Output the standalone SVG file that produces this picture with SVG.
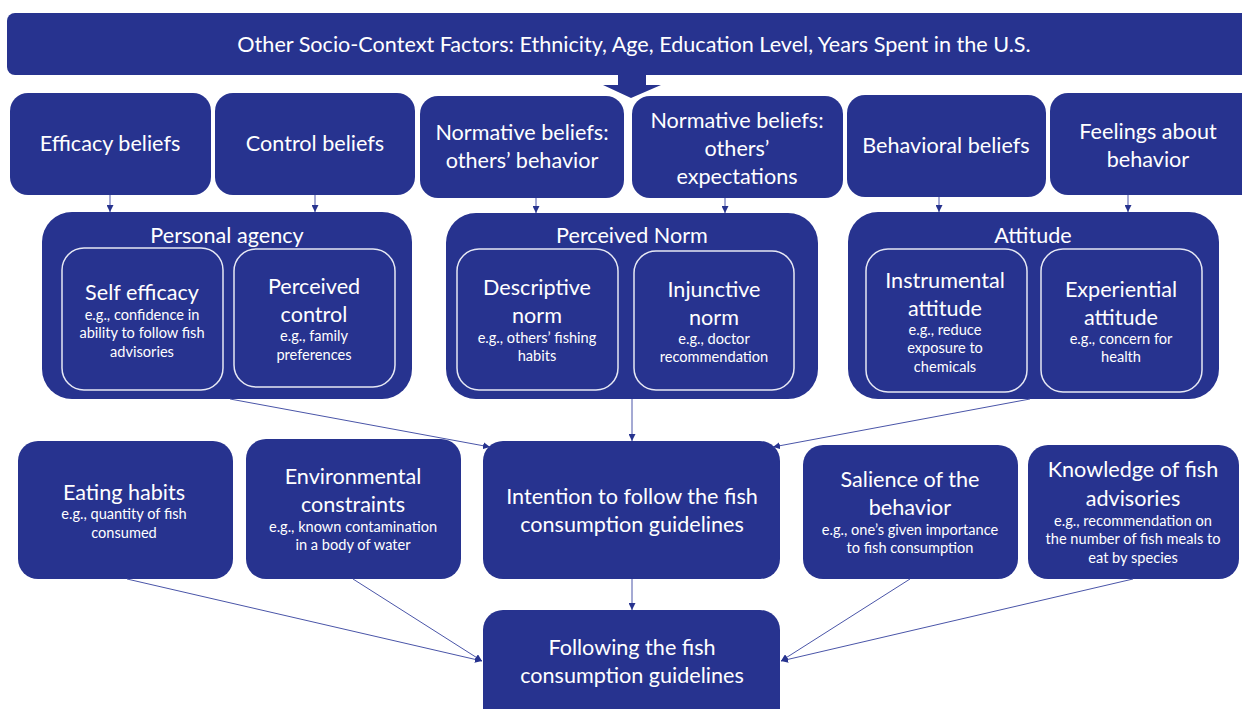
<svg xmlns="http://www.w3.org/2000/svg" width="1242" height="709" viewBox="0 0 1242 709">
  <defs>
    <style>
      .box { fill: #27338f; }
      .inner { fill: none; stroke: #e6e8f4; stroke-width: 1.5; }
      .t { font-family: Lato, "Liberation Sans", sans-serif; fill: #ffffff; text-anchor: middle; font-size: 21.6px; }
      .s { font-family: Lato, "Liberation Sans", sans-serif; fill: #ffffff; text-anchor: middle; font-size: 14.6px; }
      .c { fill: none; stroke: #4a55a8; stroke-width: 1; marker-end: url(#ah); }
    </style>
    <marker id="ah" viewBox="0 0 10 10" refX="10" refY="5" markerWidth="7" markerHeight="7" markerUnits="userSpaceOnUse" orient="auto">
      <path d="M0,0 L10,5 L0,10 z" fill="#27338f"/>
    </marker>
  </defs>

  <!-- banner -->
  <g id="banner">
    <rect class="box" x="7" y="13" width="1250" height="62" rx="8"/>
    <text class="t" x="634" y="52">Other Socio-Context Factors: Ethnicity, Age, Education Level, Years Spent in the U.S.</text>
    <path class="box" d="M618,75 H646 V85 H661 L631,98 L603,85 H618 Z"/>
  </g>

  <!-- belief boxes -->
  <g id="efficacy-beliefs">
    <rect class="box" x="10" y="93" width="201" height="102" rx="18"/>
    <text class="t" x="110" y="151">Efficacy beliefs</text>
  </g>
  <g id="control-beliefs">
    <rect class="box" x="215" y="93" width="200" height="102" rx="18"/>
    <text class="t" x="315" y="151">Control beliefs</text>
  </g>
  <g id="normative-behavior">
    <rect class="box" x="420" y="96" width="204" height="102" rx="18"/>
    <text class="t" x="522" y="140">Normative beliefs:</text>
    <text class="t" x="522" y="168">others’ behavior</text>
  </g>
  <g id="normative-expectations">
    <rect class="box" x="632" y="96" width="211" height="102" rx="18"/>
    <text class="t" x="737" y="128">Normative beliefs:</text>
    <text class="t" x="737" y="156">others’</text>
    <text class="t" x="737" y="184">expectations</text>
  </g>
  <g id="behavioral-beliefs">
    <rect class="box" x="847" y="95" width="199" height="102" rx="18"/>
    <text class="t" x="946" y="153">Behavioral beliefs</text>
  </g>
  <g id="feelings">
    <rect class="box" x="1050" y="93" width="210" height="102" rx="18"/>
    <text class="t" x="1148" y="139">Feelings about</text>
    <text class="t" x="1148" y="167">behavior</text>
  </g>

  <!-- personal agency -->
  <g id="personal-agency">
    <rect class="box" x="42" y="212" width="370" height="187" rx="30"/>
    <text class="t" x="227" y="243">Personal agency</text>
    <rect class="inner" x="62" y="248" width="161" height="142" rx="22"/>
    <text class="t" x="142" y="300">Self efficacy</text>
    <text class="s" x="142" y="319.5">e.g., confidence in</text>
    <text class="s" x="142" y="338">ability to follow fish</text>
    <text class="s" x="142" y="356.5">advisories</text>
    <rect class="inner" x="234" y="249" width="161" height="138" rx="22"/>
    <text class="t" x="314" y="294">Perceived</text>
    <text class="t" x="314" y="322">control</text>
    <text class="s" x="314" y="341">e.g., family</text>
    <text class="s" x="314" y="360">preferences</text>
  </g>

  <!-- perceived norm -->
  <g id="perceived-norm">
    <rect class="box" x="446" y="213" width="372" height="186" rx="30"/>
    <text class="t" x="632" y="243">Perceived Norm</text>
    <rect class="inner" x="457" y="249" width="161" height="141" rx="22"/>
    <text class="t" x="537" y="295">Descriptive</text>
    <text class="t" x="537" y="323">norm</text>
    <text class="s" x="537" y="343">e.g., others’ fishing</text>
    <text class="s" x="537" y="361">habits</text>
    <rect class="inner" x="634" y="251" width="160" height="139" rx="22"/>
    <text class="t" x="714" y="297">Injunctive</text>
    <text class="t" x="714" y="325">norm</text>
    <text class="s" x="714" y="344">e.g., doctor</text>
    <text class="s" x="714" y="362">recommendation</text>
  </g>

  <!-- attitude -->
  <g id="attitude">
    <rect class="box" x="848" y="212" width="371" height="187" rx="30"/>
    <text class="t" x="1033" y="243">Attitude</text>
    <rect class="inner" x="866" y="249" width="161" height="143" rx="22"/>
    <text class="t" x="945" y="288">Instrumental</text>
    <text class="t" x="945" y="316">attitude</text>
    <text class="s" x="945" y="335">e.g., reduce</text>
    <text class="s" x="945" y="353">exposure to</text>
    <text class="s" x="945" y="372">chemicals</text>
    <rect class="inner" x="1041" y="249" width="161" height="143" rx="22"/>
    <text class="t" x="1121" y="297">Experiential</text>
    <text class="t" x="1121" y="325">attitude</text>
    <text class="s" x="1121" y="344">e.g., concern for</text>
    <text class="s" x="1121" y="362">health</text>
  </g>

  <!-- lower row -->
  <g id="eating-habits">
    <rect class="box" x="18" y="441" width="215" height="138" rx="20"/>
    <text class="t" x="124" y="500">Eating habits</text>
    <text class="s" x="124" y="519">e.g., quantity of fish</text>
    <text class="s" x="124" y="538">consumed</text>
  </g>
  <g id="environmental-constraints">
    <rect class="box" x="246" y="439" width="215" height="140" rx="20"/>
    <text class="t" x="353" y="484">Environmental</text>
    <text class="t" x="353" y="512">constraints</text>
    <text class="s" x="353" y="531.5">e.g., known contamination</text>
    <text class="s" x="353" y="550">in a body of water</text>
  </g>
  <g id="intention">
    <rect class="box" x="483" y="441" width="297" height="138" rx="20"/>
    <text class="t" x="632" y="504">Intention to follow the fish</text>
    <text class="t" x="632" y="532">consumption guidelines</text>
  </g>
  <g id="salience">
    <rect class="box" x="803" y="445" width="215" height="134" rx="20"/>
    <text class="t" x="910" y="487">Salience of the</text>
    <text class="t" x="910" y="515">behavior</text>
    <text class="s" x="910" y="535">e.g., one’s given importance</text>
    <text class="s" x="910" y="553">to fish consumption</text>
  </g>
  <g id="knowledge">
    <rect class="box" x="1028" y="445" width="211" height="134" rx="20"/>
    <text class="t" x="1133" y="477">Knowledge of fish</text>
    <text class="t" x="1133" y="506">advisories</text>
    <text class="s" x="1133" y="525.5">e.g., recommendation on</text>
    <text class="s" x="1133" y="544">the number of fish meals to</text>
    <text class="s" x="1133" y="562.5">eat by species</text>
  </g>
  <g id="following">
    <rect class="box" x="483" y="610" width="297" height="130" rx="20"/>
    <text class="t" x="632" y="655">Following the fish</text>
    <text class="t" x="632" y="683">consumption guidelines</text>
  </g>

  <!-- connectors -->
  <g id="connectors">
    <line class="c" x1="110" y1="195" x2="110" y2="212"/>
    <line class="c" x1="315" y1="195" x2="315" y2="212"/>
    <line class="c" x1="536" y1="198" x2="536" y2="213"/>
    <line class="c" x1="725" y1="198" x2="725" y2="213"/>
    <line class="c" x1="939" y1="197" x2="939" y2="212"/>
    <line class="c" x1="1128" y1="195" x2="1128" y2="212"/>
    <line class="c" x1="230" y1="399" x2="490" y2="447"/>
    <line class="c" x1="632" y1="399" x2="632" y2="441"/>
    <line class="c" x1="1030" y1="399" x2="773" y2="447"/>
    <line class="c" x1="632" y1="579" x2="632" y2="610"/>
    <line class="c" x1="127" y1="579" x2="482" y2="661"/>
    <line class="c" x1="353" y1="579" x2="482" y2="661"/>
    <line class="c" x1="910" y1="579" x2="781" y2="661"/>
    <line class="c" x1="1133" y1="579" x2="781" y2="661"/>
  </g>
</svg>
